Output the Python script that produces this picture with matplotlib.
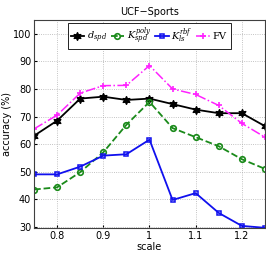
import numpy as np
import matplotlib
matplotlib.use("Agg")
import matplotlib.pyplot as plt

scale = [0.75, 0.8, 0.85, 0.9, 0.95, 1.0, 1.05, 1.1, 1.15, 1.2, 1.25]
d_spd = [63.0, 68.5, 76.5, 77.2, 76.0, 76.5, 74.5, 72.5, 71.2, 71.2, 66.5]
k_poly = [43.5, 44.3, 49.8, 57.0, 67.0, 75.3, 65.8, 62.5, 59.2, 54.5, 51.0]
k_rbf = [49.0, 49.0, 51.8, 55.8, 56.3, 61.6, 39.7, 42.2, 35.0, 30.3, 29.6]
fv = [65.5, 70.5, 78.5, 81.2, 81.3, 88.5, 80.0, 78.0, 74.0, 67.5, 62.5]

plt.rcParams['font.size'] = 7
plt.rcParams['mathtext.fontset'] = 'dejavuserif'

fig = plt.figure(figsize=(2.66, 2.54), dpi=100)
ax = fig.add_axes([0.128, 0.102, 0.868, 0.819])

ax.plot(scale, d_spd, color='black', linestyle='-', lw=1.3, marker=(6, 1, 0),
        ms=6, mew=0.8, label=r'$d_{spd}$')
ax.plot(scale, k_poly, color='#1a8a1a', linestyle='--', lw=1.3, marker='o',
        ms=4, mfc='none', mew=1.2, label=r'$K_{spd}^{poly}$')
ax.plot(scale, k_rbf, color='#1010ee', linestyle='-', lw=1.3, marker='s',
        ms=3.5, mfc='none', mew=1.1, label=r'$K_{ls}^{rbf}$')
ax.plot(scale, fv, color='#ff22ff', linestyle='-.', lw=1.1, marker='+',
        ms=4.5, mew=1.2, label=r'$\mathrm{FV}$')

ax.set_xlim(0.75, 1.25)
ax.set_ylim(29.5, 105)
ax.set_xticks([0.8, 0.9, 1.0, 1.1, 1.2])
ax.set_xticklabels(['0.8', '0.9', '1', '1.1', '1.2'])
ax.set_yticks([30, 40, 50, 60, 70, 80, 90, 100])
ax.grid(True, linestyle=':', color='#b0b0b0', lw=0.6)
ax.tick_params(direction='in', length=2, labelsize=7, pad=2)
for s in ax.spines.values():
    s.set_color('#404040')

ax.set_title('UCF\u2212Sports', fontsize=7, pad=4)
ax.set_xlabel('scale', fontsize=7, labelpad=1)
ax.set_ylabel('accuracy (%)', fontsize=7, labelpad=1)

leg = ax.legend(loc='upper center', ncol=4, fontsize=7, handlelength=1.4,
                handletextpad=0.25, columnspacing=0.4, borderpad=0.25,
                borderaxespad=0.3, fancybox=False, edgecolor='black', framealpha=1)
leg.get_frame().set_linewidth(0.6)

fig.savefig('out.png', dpi=100)
